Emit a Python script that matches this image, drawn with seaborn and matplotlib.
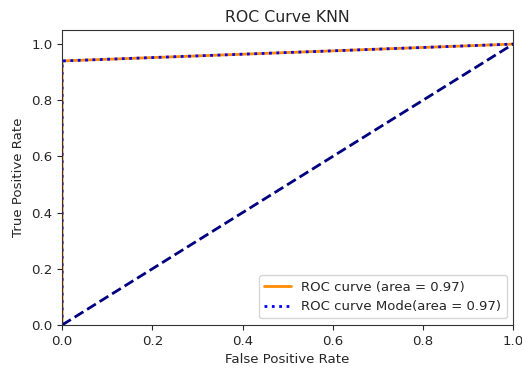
import matplotlib
matplotlib.use("Agg")
import matplotlib.pyplot as plt
import seaborn as sns

fpr = [0.0, 0.0, 1.0]
tpr = [0.0, 0.94, 1.0]
fpr_mode = [0.0, 0.0, 1.0]
tpr_mode = [0.0, 0.94, 1.0]
diag_x = [0.0, 1.0]
diag_y = [0.0, 1.0]
roc_auc = 0.97
roc_auc_mode = 0.97

sns.set_style("ticks")
plt.rcParams['font.family'] = ['DejaVu Sans']

fig = plt.figure(figsize=(5.22, 3.71), dpi=100)
ax = fig.add_axes([0.119, 0.124, 0.864, 0.795])

sns.lineplot(x=fpr, y=tpr, sort=False, estimator=None, color="darkorange", lw=2,
             label="ROC curve (area = %0.2f)" % roc_auc, ax=ax)
sns.lineplot(x=fpr_mode, y=tpr_mode, sort=False, estimator=None, color="blue", lw=2,
             linestyle=":", label="ROC curve Mode(area = %0.2f)" % roc_auc_mode, ax=ax)
ax.plot(diag_x, diag_y, color="navy", lw=2, linestyle="--")

ax.set_xlim(0.0, 1.0)
ax.set_ylim(0.0, 1.05)
ax.set_xlabel("False Positive Rate", fontsize=9.6)
ax.set_ylabel("True Positive Rate", fontsize=9.6)
ax.set_title("ROC Curve KNN", fontsize=11.3)
ax.tick_params(labelsize=9.6)
for s in ax.spines.values():
    s.set_visible(True)
    s.set_color("#333333")
ax.legend(loc="lower right", fontsize=9.5)

fig.savefig("out.png", dpi=100)
